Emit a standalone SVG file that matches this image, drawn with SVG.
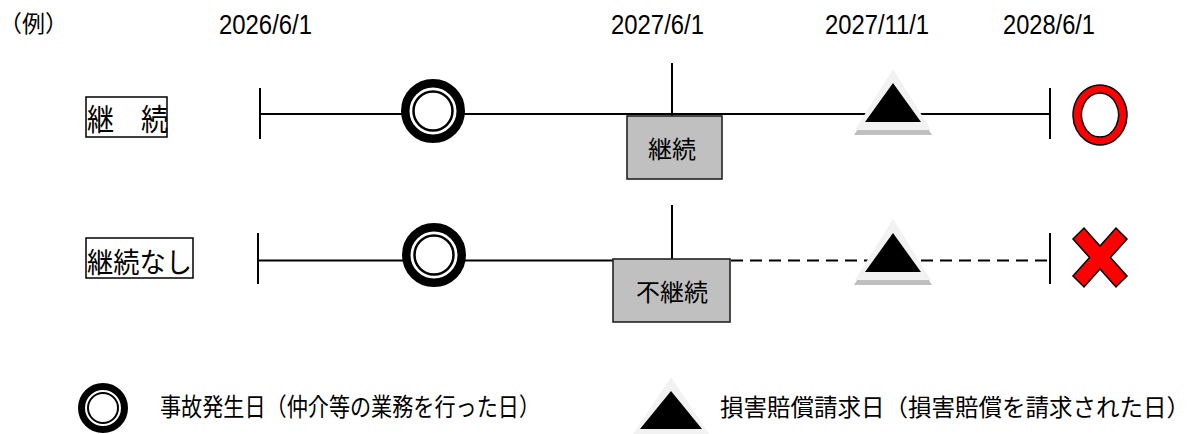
<svg xmlns="http://www.w3.org/2000/svg" width="1193" height="434" viewBox="0 0 1193 434">
<style>
.jp{font-family:"Noto Sans CJK JP","Noto Sans",sans-serif;fill:#000}
.num{font-family:"Liberation Sans",Arial,sans-serif;fill:#000}
.ln{stroke:#000;stroke-width:2;fill:none}
.dash{stroke:#000;stroke-width:2;fill:none;stroke-dasharray:12 7}
.lbl{fill:#fff;stroke:#000;stroke-width:1.5}
.box{fill:#c0c0c0;stroke:#222;stroke-width:1.6}
.tri-out{fill:#f2f2f2}
.tri-sh{fill:#bfbfbf}
.tri-in{fill:#000}
.red{fill:#ff0000;stroke:#000;stroke-width:1.5;fill-rule:evenodd}
</style>
<defs>
<g id="dbl">
<circle r="27.75" fill="#fff" stroke="#000" stroke-width="8.5"/>
<circle r="19.5" fill="#fff" stroke="#000" stroke-width="2.5"/>
</g>
<g id="tri">
<polygon class="tri-sh" points="0,5 -39,66 39,66"/>
<polygon class="tri-out" points="0,0 -38,61 38,61"/>
<polygon class="tri-in" points="0,14 -28,53 28,53"/>
</g>
</defs>
<rect width="1193" height="434" fill="#fff"/>

<g id="header">
<text class="jp" x="-1" y="32" font-size="23">（例）</text>
<text class="num" x="219" y="34" font-size="27" textLength="93" lengthAdjust="spacingAndGlyphs">2026/6/1</text>
<text class="num" x="611" y="34" font-size="27" textLength="93" lengthAdjust="spacingAndGlyphs">2027/6/1</text>
<text class="num" x="825" y="34" font-size="27" textLength="104" lengthAdjust="spacingAndGlyphs">2027/11/1</text>
<text class="num" x="1003" y="34" font-size="27" textLength="92" lengthAdjust="spacingAndGlyphs">2028/6/1</text>
</g>

<g id="connectors">
<line class="ln" x1="260" y1="114" x2="1050" y2="114"/>
<line class="ln" x1="260" y1="88" x2="260" y2="139"/>
<line class="ln" x1="1050" y1="88" x2="1050" y2="139"/>
<line class="ln" x1="672" y1="63" x2="672" y2="116"/>
<line class="ln" x1="258" y1="260.5" x2="614" y2="260.5"/>
<line class="dash" x1="731" y1="260.5" x2="1050" y2="260.5"/>
<line class="ln" x1="258" y1="233" x2="258" y2="284"/>
<line class="ln" x1="1050" y1="233" x2="1050" y2="284"/>
<line class="ln" x1="672" y1="205" x2="672" y2="259"/>
</g>

<g id="label-continue">
<rect class="lbl" x="86" y="97" width="81" height="40"/>
<text class="jp" x="87" y="130" font-size="30" textLength="81" lengthAdjust="spacingAndGlyphs">継　続</text>
</g>
<g id="label-nocontinue">
<rect class="lbl" x="86" y="238" width="107" height="40"/>
<text class="jp" x="87" y="273" font-size="28" textLength="105" lengthAdjust="spacingAndGlyphs">継続なし</text>
</g>

<g id="accident-1"><use href="#dbl" x="433" y="111"/></g>
<g id="accident-2"><use href="#dbl" x="434" y="255"/></g>

<g id="box-continue">
<rect class="box" x="627" y="116" width="95" height="63"/>
<text class="jp" x="672" y="158" font-size="24" text-anchor="middle">継続</text>
</g>
<g id="box-discontinue">
<rect class="box" x="613" y="259" width="117" height="63"/>
<text class="jp" x="672" y="301" font-size="24" text-anchor="middle">不継続</text>
</g>

<g id="claim-1"><use href="#tri" x="893" y="69"/></g>
<g id="claim-2"><use href="#tri" x="893" y="219"/></g>

<g id="mark-ok">
<path class="red" d="M1100,85 a27,30 0 1,0 0.01,0 Z M1100,93 a18.5,22 0 1,0 0.01,0 Z"/>
</g>
<g id="mark-ng">
<polygon class="red" points="1073,239 1084,228 1100,246 1116,228 1127,239 1110.4,257.5 1127,276 1116,287 1100,269 1084,287 1073,276 1089.6,257.5"/>
</g>

<g id="legend-accident">
<circle cx="103" cy="408" r="21.5" fill="#fff" stroke="#000" stroke-width="7"/>
<circle cx="103" cy="408" r="15" fill="#fff" stroke="#000" stroke-width="2"/>
<text class="jp" x="160" y="416" font-size="25" textLength="380" lengthAdjust="spacingAndGlyphs">事故発生日（仲介等の業務を行った日）</text>
</g>
<g id="legend-claim">
<polygon class="tri-out" points="671,377 629,440 713,440"/>
<polygon class="tri-in" points="671,391 640,429 702,429"/>
<text class="jp" x="720" y="416" font-size="23.5">損害賠償請求日（損害賠償を請求された日）</text>
</g>
</svg>
